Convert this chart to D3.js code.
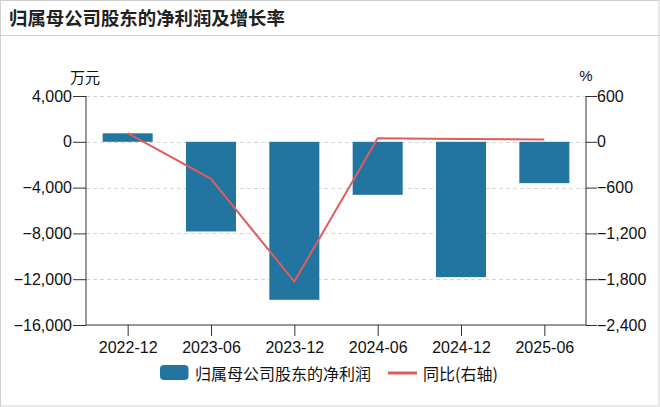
<!DOCTYPE html>
<html><head><meta charset="utf-8">
<script src="https://cdn.jsdelivr.net/npm/d3@7"></script>
<style>
body{margin:0;background:#fff;font-family:"Liberation Sans","Noto Sans CJK SC",sans-serif;}
svg{display:block;}
</style></head>
<body><svg id="c" width="660" height="407"></svg>
<script>
const categories = ["2022-12","2023-06","2023-12","2024-06","2024-12","2025-06"];
const profit = [740, -7830, -13800, -4630, -11820, -3610];
const growth = [114, -485, -1831, 48, 38, 30];
const leftTicks = [4000, 0, -4000, -8000, -12000, -16000];
const rightTicks = [600, 0, -600, -1200, -1800, -2400];
const title = "归属母公司股东的净利润及增长率";
const seriesNames = ["归属母公司股东的净利润", "同比(右轴)"];

const svg = d3.select("#c");
const W = 660, H = 407;
const m = {l:86, r:586, t:96, b:325};
const font = '"Liberation Sans","Noto Sans CJK SC",sans-serif';
const cjk = '"Noto Sans CJK SC",sans-serif';

svg.append("rect").attr("x",0.5).attr("y",0.5).attr("width",W-1.5).attr("height",H-1.5)
  .attr("fill","#fff").attr("stroke","#d0d0d0");
svg.append("text").attr("x",9).attr("y",25).text(title)
  .attr("font-size",18.4).attr("font-weight","bold").attr("fill","#222")
  .attr("font-family",cjk);
svg.append("line").attr("x1",0).attr("x2",W).attr("y1",35.5).attr("y2",35.5).attr("stroke","#d0d0d0");

const x = d3.scaleBand().domain(categories).range([m.l, m.r]).paddingInner(0.4).paddingOuter(0.2);
const xc = d3.scalePoint().domain(categories).range([m.l, m.r]).padding(0.5);
const yL = d3.scaleLinear().domain([-16000, 4000]).range([m.b, m.t]);
const yR = d3.scaleLinear().domain([-2400, 600]).range([m.b, m.t]);

// grid
svg.append("g").selectAll("line").data(leftTicks.filter(d=>d!==-16000)).join("line")
  .attr("x1",m.l).attr("x2",m.r).attr("y1",d=>Math.round(yL(d))+0.5).attr("y2",d=>Math.round(yL(d))+0.5)
  .attr("stroke","#d6d6d6").attr("stroke-dasharray","4,3");

// bars
svg.append("g").selectAll("rect").data(categories).join("rect")
  .attr("x",d=>x(d)).attr("width",x.bandwidth())
  .attr("y",(d,i)=>yL(Math.max(0,profit[i])))
  .attr("height",(d,i)=>Math.abs(yL(profit[i])-yL(0)))
  .attr("fill","#2274a1");

// line
const line = d3.line().x((d,i)=>xc(categories[i])).y(d=>yR(d));
svg.append("path").datum(growth).attr("d",line).attr("fill","none")
  .attr("stroke","#e05c5c").attr("stroke-width",2);

// axes
const axL = d3.axisLeft(yL).tickValues(leftTicks).tickSize(13).tickPadding(1).tickFormat(d3.format(","));
const axR = d3.axisRight(yR).tickValues(rightTicks).tickSize(11).tickPadding(0).tickFormat(d3.format(","));
const axB = d3.axisBottom(xc).tickSize(11).tickPadding(6);
function style(g){
  g.select(".domain").attr("stroke","#333");
  g.selectAll(".tick line").attr("stroke","#333");
  g.selectAll("text").attr("font-size",16).attr("fill","#111").attr("font-family",font);
}
const gL = svg.append("g").attr("transform",`translate(${m.l},0)`).call(axL).call(style);
gL.select(".domain").attr("d",`M0,${m.t}V${m.b}`);
const gR = svg.append("g").attr("transform",`translate(${m.r},0)`).call(axR).call(style);
gR.select(".domain").attr("d",`M0,${m.t}V${m.b}`);
const gB = svg.append("g").attr("transform",`translate(0,${m.b})`).call(axB).call(style);
gB.select(".domain").attr("d",`M${m.l},0H${m.r}`);

// unit labels
svg.append("text").attr("x",85).attr("y",83).attr("text-anchor","middle").text("万元")
  .attr("font-size",15).attr("fill","#111").attr("font-family",cjk);
svg.append("text").attr("x",586).attr("y",81).attr("text-anchor","middle").text("%")
  .attr("font-size",15).attr("fill","#111").attr("font-family",font);

// legend
const lg = svg.append("g");
lg.append("rect").attr("x",160).attr("y",365).attr("width",28.5).attr("height",15).attr("rx",4)
  .attr("fill","#2274a1");
lg.append("text").attr("x",195).attr("y",379.5).text(seriesNames[0])
  .attr("font-size",16).attr("fill","#111").attr("font-family",cjk);
lg.append("line").attr("x1",388).attr("x2",417).attr("y1",373).attr("y2",373)
  .attr("stroke","#e05c5c").attr("stroke-width",3);
lg.append("text").attr("x",423).attr("y",379.5).text(seriesNames[1])
  .attr("font-size",16).attr("fill","#111").attr("font-family",cjk);
</script></body></html>
